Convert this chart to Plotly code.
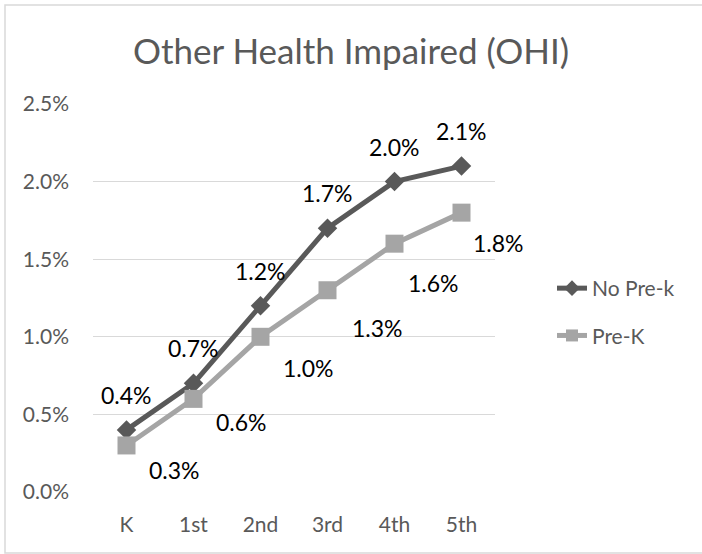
import plotly.graph_objects as go

categories = ["K", "1st", "2nd", "3rd", "4th", "5th"]
no_prek = [0.004, 0.007, 0.012, 0.017, 0.020, 0.021]
prek = [0.003, 0.006, 0.010, 0.013, 0.016, 0.018]
y_ticks = [0.0, 0.005, 0.010, 0.015, 0.020, 0.025]
y_tick_labels = ["0.0%", "0.5%", "1.0%", "1.5%", "2.0%", "2.5%"]

# label placement offsets in pixels (styling only)
prek_label_dx = [48, 48, 48, 50, 39, 37]
prek_label_dy = [-25, -23, -31, -38, -39, -30]

DARK = "#595959"
LIGHT = "#a5a5a5"
FONT = "Lato"

fig = go.Figure()
fig.add_trace(go.Scatter(
    x=categories, y=no_prek, name="No Pre-k", mode="lines+markers", legendgroup="a",
    line=dict(color=DARK, width=5),
    marker=dict(symbol="diamond", size=15, color=DARK),
))
fig.add_trace(go.Scatter(
    x=categories, y=prek, name="Pre-K", mode="lines+markers", legendgroup="b",
    line=dict(color=LIGHT, width=5),
    marker=dict(symbol="square", size=18, color=LIGHT),
))

annotations = []
for c, v in zip(categories, no_prek):
    annotations.append(dict(x=c, y=v, xref="x", yref="y", text=f"{v*100:.1f}%",
                            showarrow=False, yshift=35,
                            font=dict(family=FONT, size=23, color="#000000")))
for c, v, dx, dy in zip(categories, prek, prek_label_dx, prek_label_dy):
    annotations.append(dict(x=c, y=v, xref="x", yref="y", text=f"{v*100:.1f}%",
                            showarrow=False, xshift=dx, yshift=dy,
                            font=dict(family=FONT, size=23, color="#000000")))

L, R, T, B = 93, 207, 104, 62
PW, PH = 702 - L - R, 554 - T - B

fig.update_layout(
    width=702, height=554,
    margin=dict(l=L, r=R, t=T, b=B, pad=0),
    paper_bgcolor="white", plot_bgcolor="white",
    title=dict(text="Other Health Impaired (OHI)", x=0.5, xref="container", xanchor="center",
               y=1 - 52 / 554, yanchor="middle",
               font=dict(family=FONT, size=35, color=DARK)),
    font=dict(family=FONT, size=21, color=DARK),
    xaxis=dict(type="category", range=[-0.5, 5.5], showgrid=False, showline=False,
               zeroline=False, ticks="", tickfont=dict(size=21, color=DARK), ticklabelstandoff=18),
    yaxis=dict(range=[0, 0.025], tickvals=y_ticks, ticktext=y_tick_labels,
               showgrid=True, gridcolor="#d9d9d9", gridwidth=1.3, zeroline=False,
               showline=False, ticks="", tickfont=dict(size=21, color=DARK), ticklabelstandoff=23),
    legend=dict(x=(552 - L) / PW, y=(492 - 268) / PH, xanchor="left", yanchor="top",
                font=dict(family=FONT, size=21, color=DARK), tracegroupgap=17,
                traceorder="grouped",
                itemsizing="constant", bgcolor="rgba(0,0,0,0)"),
    annotations=annotations,
    shapes=[dict(type="rect", xref="paper", yref="paper",
                 x0=(5 - L) / PW, x1=(703 - L) / PW,
                 y0=(492 - 553) / PH, y1=(492 - 5) / PH,
                 line=dict(color="#d9d9d9", width=1.5), fillcolor="rgba(0,0,0,0)", layer="below")],
)

fig.write_html("out.html", config={"displayModeBar": False},
               post_script="document.body.style.margin='0px';")
